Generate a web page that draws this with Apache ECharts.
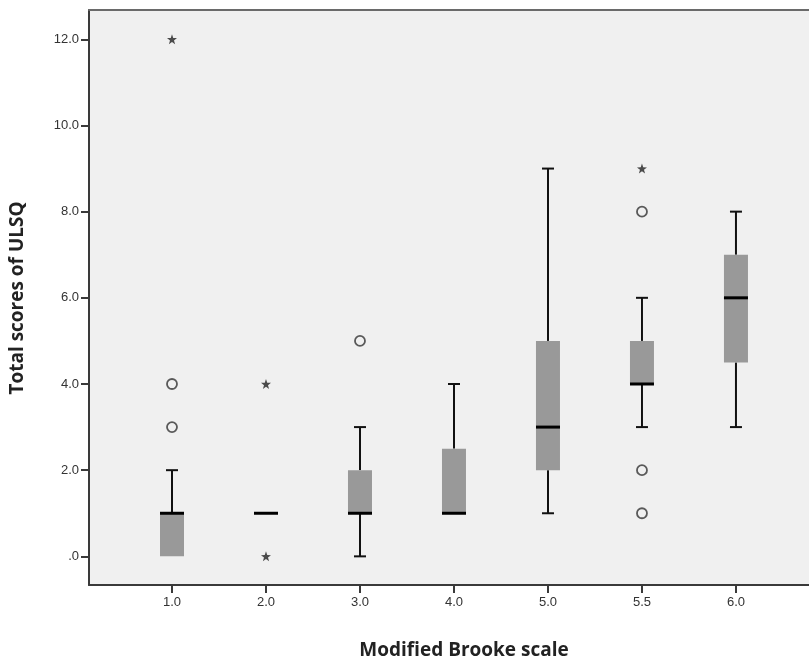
<!DOCTYPE html>
<html><head><meta charset="utf-8">
<script src="https://cdn.jsdelivr.net/npm/echarts@6/dist/echarts.min.js"></script>
<style>html,body{margin:0;padding:0;background:#fff}#c{width:809px;height:662px}</style>
</head><body><div id="c"></div>
<script>
const categories = ['1.0','2.0','3.0','4.0','5.0','5.5','6.0'];
// [min, Q1, median, Q3, max]
const boxes = [
  [0, 0, 1, 1, 2],
  [1, 1, 1, 1, 1],
  [0, 1, 1, 2, 3],
  [1, 1, 1, 2.5, 4],
  [1, 2, 3, 5, 9],
  [3, 4, 4, 5, 6],
  [3, 4.5, 6, 7, 8]
];
// outliers (circles): [categoryIndex, value]
const outliers = [[0,4],[0,3],[2,5],[5,8],[5,2],[5,1]];
// extremes (stars)
const extremes = [[0,12],[1,4],[1,0],[5,9]];
const yTicks = [0,2,4,6,8,10,12];
const yTickLabels = ['.0','2.0','4.0','6.0','8.0','10.0','12.0'];

const chart = echarts.init(document.getElementById('c'));
const catIdx = categories.map((c,i)=>i);

chart.setOption({
  animation:false,
  grid:{left:89,top:10,right:0,bottom:77,show:true,backgroundColor:'#f0f0f0',borderWidth:0},
  xAxis:[{
    type:'value', min:-0.883, max:6.777,
    splitLine:{show:false},
    axisLine:{show:true,onZero:false,lineStyle:{color:'#3a3a3a',width:2}},
    axisTick:{show:true,customValues:catIdx,length:8,lineStyle:{color:'#3a3a3a',width:2}},
    axisLabel:{customValues:catIdx,formatter:v=>categories[Math.round(v)],color:'#333',fontSize:13,fontFamily:'Liberation Sans',margin:11}
  },{
    type:'value', position:'top', min:-0.883, max:6.777,
    splitLine:{show:false},
    axisLine:{show:true,onZero:false,lineStyle:{color:'#6a6a6a',width:2}},
    axisTick:{show:false},axisLabel:{show:false}
  }],
  yAxis:{
    type:'value', min:-0.665, max:12.68,
    splitLine:{show:false},
    axisLine:{show:true,onZero:false,lineStyle:{color:'#3a3a3a',width:2}},
    axisTick:{show:true,customValues:yTicks,length:8,lineStyle:{color:'#3a3a3a',width:2}},
    axisLabel:{customValues:yTicks,formatter:v=>yTickLabels[yTicks.indexOf(Math.round(v))],color:'#333',fontSize:13,fontFamily:'Liberation Sans',margin:10}
  },
  graphic:[
    {type:'text',x:18,y:298,rotation:Math.PI/2,style:{text:'Total scores of ULSQ',font:'bold 19px "Open Sans"',fill:'#222',align:'center',verticalAlign:'middle'}},
    {type:'text',x:464,y:651,style:{text:'Modified Brooke scale',font:'bold 19px "Open Sans"',fill:'#222',align:'center',verticalAlign:'middle'}}
  ],
  series:[{
    type:'custom',
    data:boxes.map((b,i)=>[i].concat(b)),
    encode:{x:0,y:[1,2,3,4,5]},
    renderItem:function(params,api){
      const i=api.value(0);
      const p=[1,2,3,4,5].map(k=>api.coord([i,api.value(k)]));
      const x=p[0][0];
      const hw=12, cw=6;
      const ch=[];
      const ls={stroke:'#111',lineWidth:2};
      if(p[0][1]!==p[1][1]){
        ch.push({type:'line',shape:{x1:x,y1:p[1][1],x2:x,y2:p[0][1]},style:ls});
        ch.push({type:'line',shape:{x1:x-cw,y1:p[0][1],x2:x+cw,y2:p[0][1]},style:ls});
      }
      if(p[4][1]!==p[3][1]){
        ch.push({type:'line',shape:{x1:x,y1:p[3][1],x2:x,y2:p[4][1]},style:ls});
        ch.push({type:'line',shape:{x1:x-cw,y1:p[4][1],x2:x+cw,y2:p[4][1]},style:ls});
      }
      if(p[1][1]!==p[3][1]){
        ch.push({type:'rect',shape:{x:x-hw,y:p[3][1],width:hw*2,height:p[1][1]-p[3][1]},style:{fill:'#999999'}});
      }
      ch.push({type:'line',shape:{x1:x-hw,y1:p[2][1],x2:x+hw,y2:p[2][1]},style:{stroke:'#000',lineWidth:3}});
      return {type:'group',children:ch};
    },
    z:2
  },{
    type:'scatter',
    data:outliers,
    symbol:'circle',symbolSize:10,
    itemStyle:{color:'#f0f0f0',borderColor:'#333',borderWidth:1.8},
    z:3
  },{
    type:'scatter',
    data:extremes,
    symbol:'path://M0,-10 L2.35,-3.24 L9.51,-3.09 L3.8,1.24 L5.88,8.09 L0,4 L-5.88,8.09 L-3.8,1.24 L-9.51,-3.09 L-2.35,-3.24 Z',
    symbolSize:10,
    itemStyle:{color:'#222'},
    z:3
  }]
});
</script></body></html>
